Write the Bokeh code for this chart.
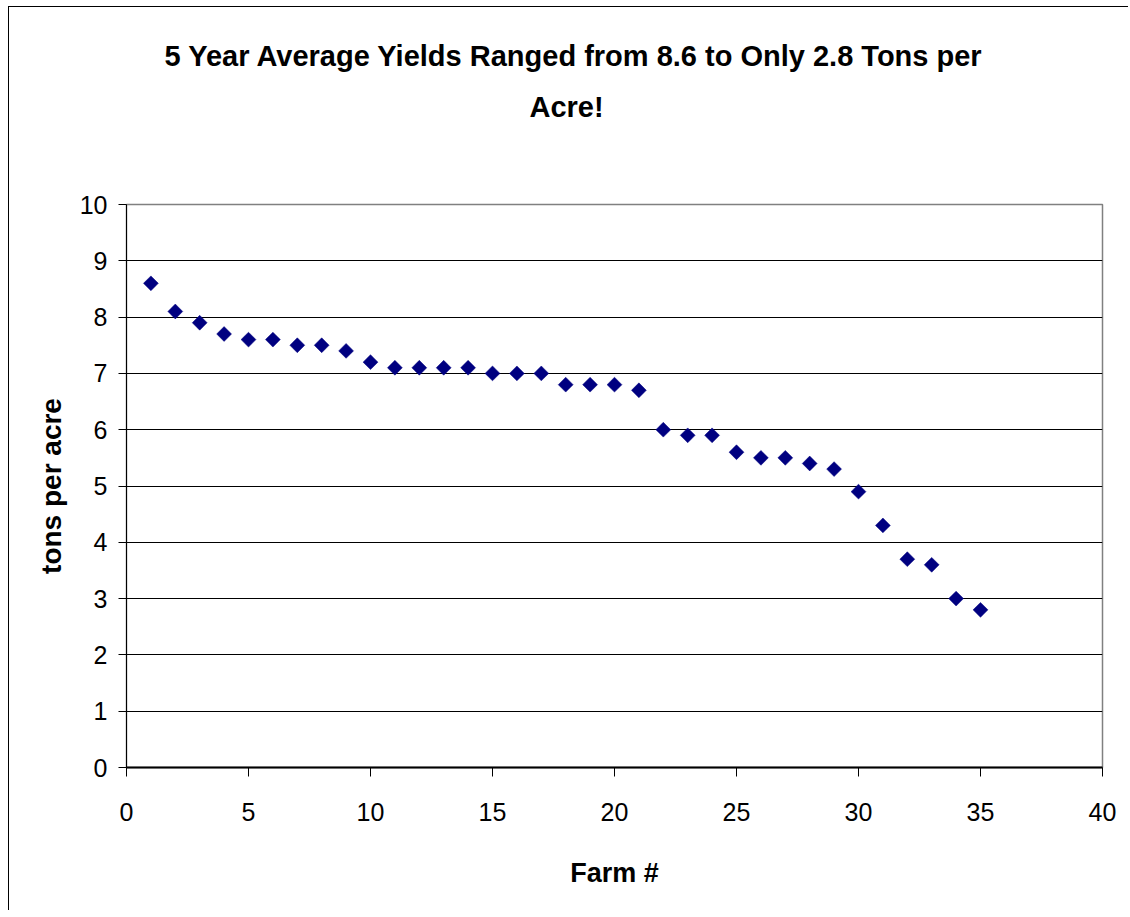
import math

from bokeh.embed import file_html
from bokeh.models import FixedTicker, Range1d, SingleIntervalTicker, Title
from bokeh.plotting import figure
from bokeh.resources import INLINE

# Five-year average yield per farm, sorted from highest to lowest
farm = list(range(1, 36))
yields = [8.6, 8.1, 7.9, 7.7, 7.6, 7.6, 7.5, 7.5, 7.4, 7.2,
          7.1, 7.1, 7.1, 7.1, 7.0, 7.0, 7.0, 6.8, 6.8, 6.8,
          6.7, 6.0, 5.9, 5.9, 5.6, 5.5, 5.5, 5.4, 5.3, 4.9,
          4.3, 3.7, 3.6, 3.0, 2.8]

title_lines = ["5 Year Average Yields Ranged from 8.6 to Only 2.8 Tons per", "Acre!"]
x_label = "Farm #"
y_label = "tons per acre"
y_grid_values = [1, 2, 3, 4, 5, 6, 7, 8, 9]

FONT = "Liberation Sans"

p = figure(
    width=1120, height=904,
    x_range=Range1d(0, 40), y_range=Range1d(0, 10),
    output_backend="svg", toolbar_location=None, title=None,
    min_border_left=117, min_border_right=27,
    min_border_top=197, min_border_bottom=144,
)
p.margin = (6, 0, 0, 8)
p.styles = {"border-left": "1px solid #000000", "border-top": "1px solid #000000"}
p.background_fill_color = "white"
p.border_fill_color = "white"
p.outline_line_color = "#808080"
p.outline_line_width = 1.5

# Axes
p.xaxis.ticker = SingleIntervalTicker(interval=5)
p.yaxis.ticker = SingleIntervalTicker(interval=1)
for ax in (p.xaxis[0], p.yaxis[0]):
    ax.minor_tick_line_color = None
    ax.major_tick_in = 0
    ax.axis_line_color = "black"
    ax.major_tick_line_color = "black"
    ax.major_label_text_font = FONT
    ax.major_label_text_font_size = "25px"
    ax.major_label_text_color = "black"
    ax.axis_label_text_font = FONT
    ax.axis_label_text_font_style = "bold"
    ax.axis_label_text_color = "black"
p.xaxis.axis_line_width = 2
p.xaxis.major_tick_out = 9
p.xaxis.major_label_standoff = 26
p.xaxis.axis_label = x_label
p.xaxis.axis_label_text_font_size = "27px"
p.xaxis.axis_label_standoff = 34

p.yaxis.axis_line_width = 1
p.yaxis.major_tick_out = 8
p.yaxis.major_label_standoff = 11
p.yaxis.axis_label = y_label
p.yaxis.axis_label_text_font_size = "28px"
p.yaxis.axis_label_standoff = 10

# Horizontal gridlines only
p.xgrid.visible = False
p.ygrid.ticker = FixedTicker(ticks=y_grid_values)
p.ygrid.grid_line_color = "black"
p.ygrid.grid_line_width = 1

# Yield markers (diamonds)
p.scatter(farm, yields, marker="square", size=10.5, angle=math.pi / 4,
          fill_color="#000080", line_color="#000080", line_width=0.5)

# Title block: a blank gap above the plot, then the two title lines
gap = Title(text=" ", text_font_size="1px", standoff=74)
second = Title(text=title_lines[1], align="left", offset=403, standoff=10,
               text_font=FONT, text_font_size="29px", text_font_style="bold",
               text_color="black")
first = Title(text=title_lines[0], align="left", offset=38, standoff=24,
              text_font=FONT, text_font_size="29px", text_font_style="bold",
              text_color="black")
p.add_layout(gap, "above")
p.add_layout(second, "above")
p.add_layout(first, "above")

open("out.html", "w").write(file_html(p, INLINE))
